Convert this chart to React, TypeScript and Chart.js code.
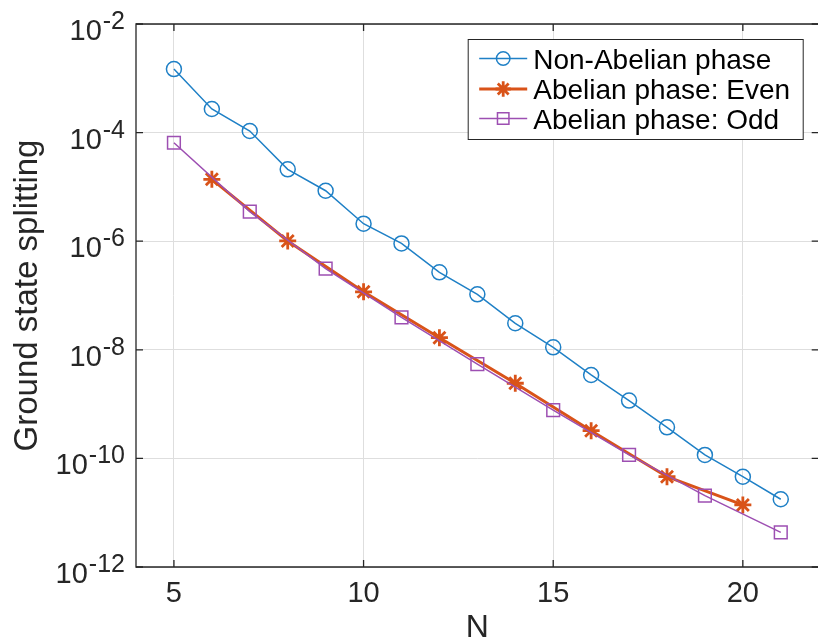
import { useEffect, useRef } from "react";
import { Chart, registerables } from "chart.js";
import { drawPoint } from "chart.js/helpers";

Chart.register(...registerables);

// System sizes
const nAll = [5, 6, 7, 8, 9, 10, 11, 12, 13, 14, 15, 16, 17, 18, 19, 20, 21];
const nEven = [6, 8, 10, 12, 14, 16, 18, 20];
const nOdd = [5, 7, 9, 11, 13, 15, 17, 19, 21];

// Ground state splitting
const nonAbelian = [
  1.48e-3, 2.72e-4, 1.07e-4, 2.11e-5, 8.5e-6, 2.1e-6, 9.1e-7, 2.67e-7, 1.05e-7,
  3.08e-8, 1.11e-8, 3.44e-9, 1.16e-9, 3.74e-10, 1.16e-10, 4.6e-11, 1.77e-11,
];
const abelianEven = [1.38e-5, 1.01e-6, 1.17e-7, 1.67e-8, 2.42e-9, 3.24e-10, 4.6e-11, 1.39e-11];
const abelianOdd = [6.5e-5, 3.5e-6, 3.12e-7, 3.96e-8, 5.47e-9, 7.78e-10, 1.16e-10, 2.06e-11, 4.35e-12];

const seriesLabels = ["Non-Abelian phase", "Abelian phase: Even", "Abelian phase: Odd"];

// Axis ticks
const xTicks = [5, 10, 15, 20];
const yTickExponents = [-2, -4, -6, -8, -10, -12];

const BLUE = "#1f80c6";
const ORANGE = "#d95319";
const PURPLE = "#9d4fb2";
const AXIS_COLOR = "#262626";
const FONT = '"Liberation Sans", Arial, Helvetica, sans-serif';

const toPoints = (xs: number[], ys: number[]) => xs.map((x, i) => ({ x, y: ys[i] }));

const decorations = {
  id: "decorations",
  afterDatasetsDraw(chart: any) {
    const { ctx, chartArea: a, scales } = chart;
    const xs = scales.x;
    const ys = scales.y;
    ctx.save();
    ctx.strokeStyle = AXIS_COLOR;
    ctx.lineWidth = 1.3;
    ctx.beginPath();
    ctx.rect(a.left, a.top, a.right - a.left, a.bottom - a.top);
    ctx.stroke();
    const tl = 7;
    ctx.beginPath();
    for (const v of xTicks) {
      const px = xs.getPixelForValue(v);
      ctx.moveTo(px, a.bottom);
      ctx.lineTo(px, a.bottom - tl);
      ctx.moveTo(px, a.top);
      ctx.lineTo(px, a.top + tl);
    }
    for (const e of yTickExponents) {
      const py = ys.getPixelForValue(Math.pow(10, e));
      ctx.moveTo(a.left, py);
      ctx.lineTo(a.left + tl, py);
      ctx.moveTo(a.right, py);
      ctx.lineTo(a.right - tl, py);
    }
    ctx.stroke();
    ctx.restore();
  },
  afterDraw(chart: any) {
    const { ctx, chartArea: a, scales } = chart;
    const xs = scales.x;
    const ys = scales.y;
    ctx.save();
    ctx.fillStyle = AXIS_COLOR;

    // y tick labels: 10 with a raised exponent
    const labelRight = a.left - 11;
    for (const e of yTickExponents) {
      const py = ys.getPixelForValue(Math.pow(10, e));
      const sup = "-" + String(Math.abs(e));
      ctx.font = `25px ${FONT}`;
      const supW = ctx.measureText(sup).width;
      ctx.textAlign = "left";
      ctx.textBaseline = "alphabetic";
      ctx.fillText(sup, labelRight - supW, py + 5);
      ctx.font = `29px ${FONT}`;
      ctx.textAlign = "right";
      ctx.fillText("10", labelRight - supW - 1, py + 16);
    }

    // x tick labels
    ctx.font = `29px ${FONT}`;
    ctx.textAlign = "center";
    ctx.textBaseline = "alphabetic";
    for (const v of xTicks) {
      ctx.fillText(String(v), xs.getPixelForValue(v), a.bottom + 35);
    }

    // axis titles
    ctx.font = `32px ${FONT}`;
    ctx.fillText("N", (a.left + a.right) / 2, a.bottom + 70);
    ctx.save();
    ctx.font = `33px ${FONT}`;
    ctx.translate(a.left - 99, (a.top + a.bottom) / 2);
    ctx.rotate(-Math.PI / 2);
    ctx.fillText("Ground state splitting", 0, 0);
    ctx.restore();

    // legend
    const bx = a.right - 350.5;
    const by = a.top + 15.5;
    const bw = 335;
    const bh = 100;
    ctx.fillStyle = "#ffffff";
    ctx.fillRect(bx, by, bw, bh);
    ctx.strokeStyle = AXIS_COLOR;
    ctx.lineWidth = 1;
    ctx.strokeRect(bx, by, bw, bh);
    const rows = [by + 19, by + 49.5, by + 79];
    chart.data.datasets.forEach((ds: any, i: number) => {
      const ry = rows[i];
      ctx.strokeStyle = ds.borderColor;
      ctx.lineWidth = ds.borderWidth;
      ctx.beginPath();
      ctx.moveTo(bx + 11, ry);
      ctx.lineTo(bx + 59, ry);
      ctx.stroke();
      ctx.fillStyle = "rgba(0,0,0,0)";
      ctx.strokeStyle = ds.pointBorderColor;
      ctx.lineWidth = ds.pointBorderWidth;
      drawPoint(
        ctx,
        {
          pointStyle: ds.pointStyle,
          radius: ds.pointRadius * 0.9,
          rotation: 0,
          borderWidth: ds.pointBorderWidth,
        },
        bx + 35,
        ry
      );
      ctx.fillStyle = "#000000";
      ctx.font = `28px ${FONT}`;
      ctx.textAlign = "left";
      ctx.textBaseline = "alphabetic";
      ctx.fillText(seriesLabels[i], bx + 65, ry + 10);
    });
    ctx.restore();
  },
};

export default function App() {
  const ref = useRef<HTMLCanvasElement>(null);

  useEffect(() => {
    const canvas = ref.current;
    if (!canvas) return;
    const chart = new Chart(canvas, {
      type: "line",
      data: {
        datasets: [
          {
            label: seriesLabels[0],
            data: toPoints(nAll, nonAbelian),
            borderColor: BLUE,
            backgroundColor: "rgba(0,0,0,0)",
            borderWidth: 1.5,
            pointStyle: "circle",
            pointRadius: 7.5,
            pointBorderWidth: 1.5,
            pointBorderColor: BLUE,
            pointBackgroundColor: "rgba(0,0,0,0)",
            order: 2,
          },
          {
            label: seriesLabels[1],
            data: toPoints(nEven, abelianEven),
            borderColor: ORANGE,
            backgroundColor: "rgba(0,0,0,0)",
            borderWidth: 3,
            pointStyle: "star",
            pointRadius: 8.5,
            pointBorderWidth: 2.8,
            pointBorderColor: ORANGE,
            pointBackgroundColor: "rgba(0,0,0,0)",
            order: 1,
          },
          {
            label: seriesLabels[2],
            data: toPoints(nOdd, abelianOdd),
            borderColor: PURPLE,
            backgroundColor: "rgba(0,0,0,0)",
            borderWidth: 1.5,
            pointStyle: "rect",
            pointRadius: 9,
            pointBorderWidth: 1.5,
            pointBorderColor: PURPLE,
            pointBackgroundColor: "rgba(0,0,0,0)",
            order: 0,
          },
        ],
      },
      options: {
        responsive: false,
        animation: false,
        devicePixelRatio: 1,
        layout: { padding: { left: 136, top: 24, right: 7, bottom: 77 } },
        plugins: { legend: { display: false }, tooltip: { enabled: false } },
        elements: { line: { tension: 0 } },
        scales: {
          x: {
            type: "linear",
            min: 4,
            max: 22,
            afterBuildTicks: (axis: any) => {
              axis.ticks = xTicks.map((v) => ({ value: v }));
            },
            ticks: { display: false },
            grid: { color: "#dedede", lineWidth: 1, drawTicks: false },
            border: { display: false },
          },
          y: {
            type: "logarithmic",
            min: 1e-12,
            max: 1e-2,
            afterBuildTicks: (axis: any) => {
              axis.ticks = yTickExponents.map((e) => ({ value: Math.pow(10, e) }));
            },
            ticks: { display: false },
            grid: { color: "#dedede", lineWidth: 1, drawTicks: false },
            border: { display: false },
          },
        },
      },
      plugins: [decorations],
    });
    return () => chart.destroy();
  }, []);

  return (
    <div
      style={{
        position: "fixed",
        left: 0,
        top: 0,
        width: 818,
        height: 644,
        overflow: "hidden",
        background: "#ffffff",
      }}
    >
      <canvas ref={ref} width={830} height={644} style={{ display: "block" }} />
    </div>
  );
}
